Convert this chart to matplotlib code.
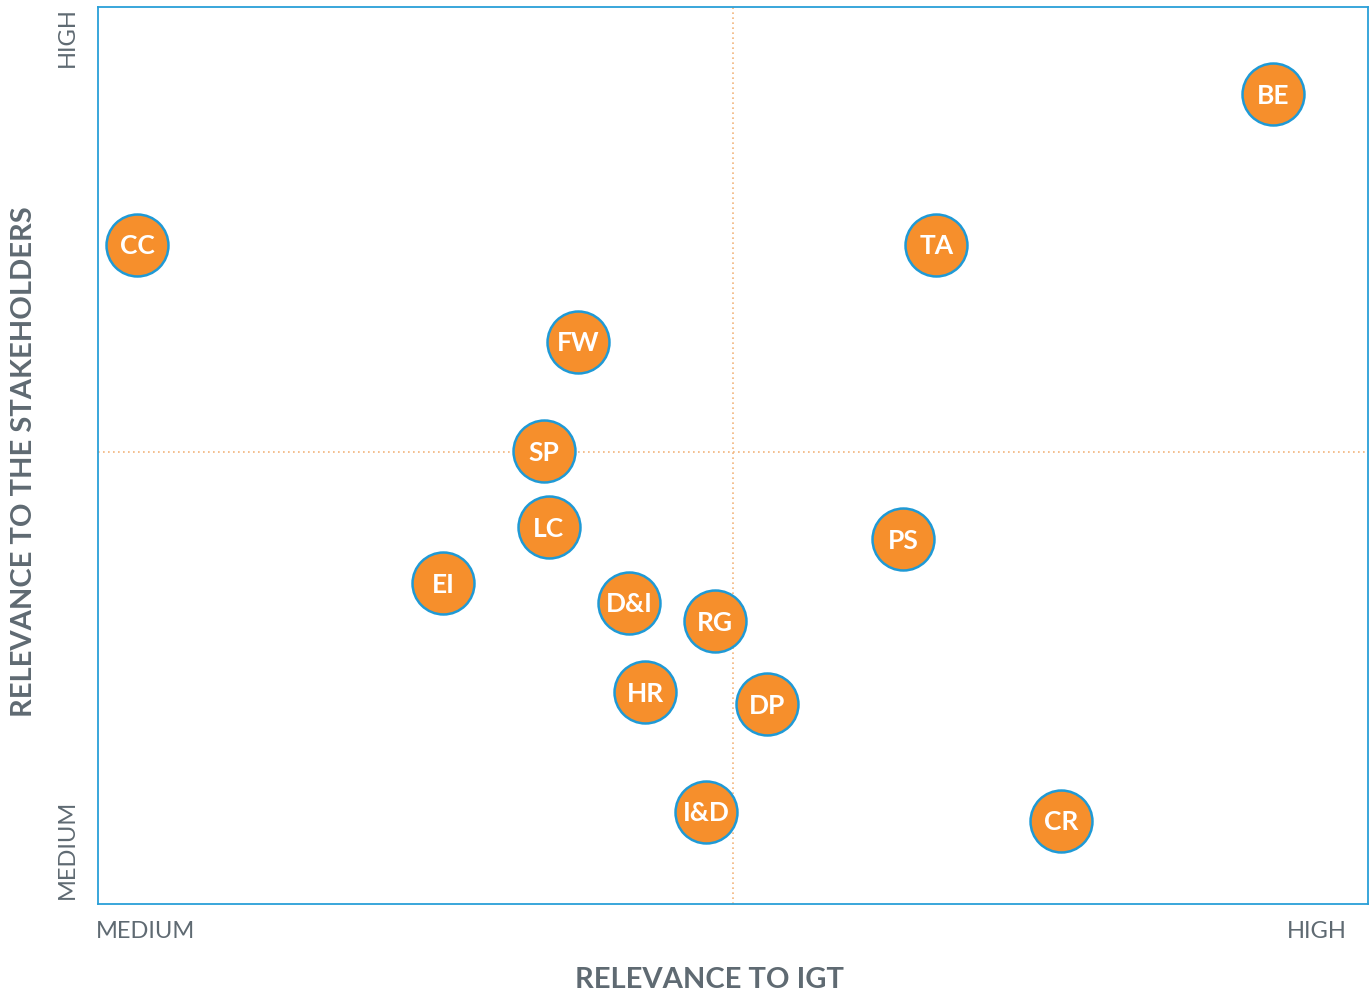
import matplotlib
matplotlib.use('Agg')
from matplotlib import pyplot as plt

# data (0-10 scale, medium -> high)
labels = ['BE', 'CC', 'TA', 'FW', 'SP', 'LC', 'PS', 'EI', 'D&I', 'RG', 'HR', 'DP', 'I&D', 'CR']
igt = [9.25, 0.31, 6.60, 3.78, 3.51, 3.55, 6.34, 2.72, 4.18, 4.86, 4.31, 5.27, 4.79, 7.58]
stake = [9.03, 7.35, 7.35, 6.27, 5.05, 4.20, 4.07, 3.58, 3.36, 3.15, 2.36, 2.23, 1.03, 0.93]

orange = '#f68f2c'
blue = '#1f9ad6'
grey = '#5f6a72'

fig = plt.figure(figsize=(13.72, 9.98), dpi=100)
ax = fig.add_axes([0.0714, 0.0942, 0.9257, 0.8988])
ax.set_xlim(0, 10)
ax.set_ylim(0, 10)

# quadrant lines
ax.axvline(5, color='#f2b47c', lw=1.2, ls=(0, (1, 2)), zorder=1)
ax.axhline(5.04, color='#f2b47c', lw=1.2, ls=(0, (1, 2)), zorder=1)

ax.scatter(igt, stake, s=1990, c=orange, edgecolors=blue, linewidths=1.8, zorder=3)
for lab, x, y in zip(labels, igt, stake):
    ax.text(x, y - 0.02, lab, color='white', fontsize=19, fontweight='bold', family='Lato',
            ha='center', va='center', zorder=4)

for s in ax.spines.values():
    s.set_color('#2a9fd8')
    s.set_linewidth(1.3)
ax.set_xticks([])
ax.set_yticks([])

# axis end labels
fig.text(96/1372, 1-931/998, 'MEDIUM', fontsize=17, family='Lato', fontweight='normal',
         color=grey, ha='left', va='center')
fig.text(1347/1372, 1-931/998, 'HIGH', fontsize=17, family='Lato', fontweight='normal',
         color=grey, ha='right', va='center')
fig.text(67/1372, 1-7/998, 'HIGH', fontsize=17, family='Lato', fontweight='normal',
         color=grey, ha='center', va='top', rotation=90)
fig.text(67/1372, 1-899/998, 'MEDIUM', fontsize=17, family='Lato', fontweight='normal',
         color=grey, ha='center', va='bottom', rotation=90)

# axis titles
fig.text(709/1372, 1-980/998, 'RELEVANCE TO IGT', fontsize=21, family='Lato', fontweight='bold',
         color=grey, ha='center', va='center')
fig.text(24/1372, 1-462/998, 'RELEVANCE TO THE STAKEHOLDERS', fontsize=21, family='Lato',
         fontweight='bold', color=grey, ha='center', va='center', rotation=90)

plt.savefig('out.png', dpi=100)
